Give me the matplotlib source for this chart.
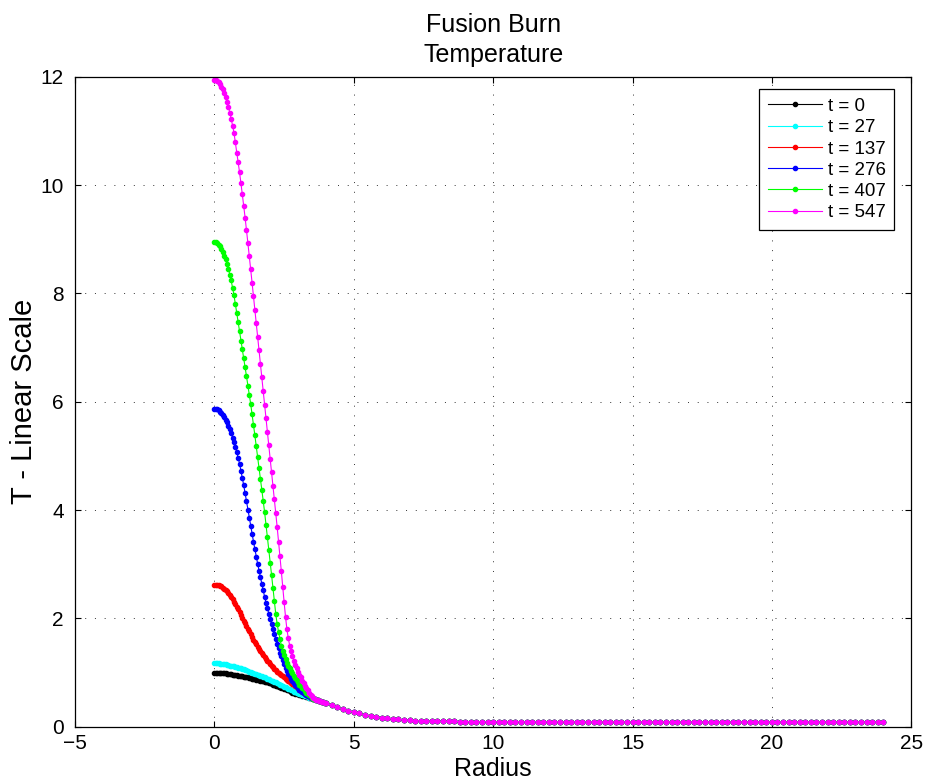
import numpy as np
import matplotlib
matplotlib.use("Agg")
import matplotlib.pyplot as plt


# radius samples near the core, every 0.05 (per-series values below)
radius_core = [0.00, 0.05, 0.10, 0.15, 0.20, 0.25, 0.30, 0.35, 0.40, 0.45,
               0.50, 0.55, 0.60, 0.65, 0.70, 0.75, 0.80, 0.85, 0.90, 0.95,
               1.00, 1.05, 1.10, 1.15, 1.20, 1.25, 1.30, 1.35, 1.40, 1.45,
               1.50, 1.55, 1.60, 1.65, 1.70, 1.75, 1.80, 1.85, 1.90, 1.95,
               2.00, 2.05, 2.10, 2.15, 2.20, 2.25, 2.30, 2.35, 2.40, 2.45,
               2.50, 2.55, 2.60, 2.65, 2.70, 2.75, 2.80, 2.85, 2.90, 2.95,
               3.00, 3.05, 3.10, 3.15, 3.20, 3.25, 3.30, 3.35, 3.40, 3.45,
               3.50, 3.55, 3.60, 3.65, 3.70, 3.75, 3.80, 3.85, 3.90, 3.95,
               4.00]

temp_t0 = [1.00, 1.00, 1.00, 1.00, 1.00, 0.99, 0.99, 0.99, 0.99, 0.98,
           0.98, 0.97, 0.97, 0.96, 0.96, 0.95, 0.95, 0.94, 0.94, 0.93,
           0.93, 0.92, 0.92, 0.91, 0.91, 0.90, 0.90, 0.89, 0.89, 0.88,
           0.87, 0.86, 0.86, 0.85, 0.85, 0.84, 0.83, 0.82, 0.82, 0.81,
           0.80, 0.79, 0.78, 0.77, 0.76, 0.75, 0.74, 0.73, 0.72, 0.71,
           0.70, 0.69, 0.68, 0.67, 0.66, 0.64, 0.63, 0.62, 0.61, 0.60,
           0.60, 0.59, 0.58, 0.57, 0.57, 0.56, 0.55, 0.55, 0.54, 0.53,
           0.53, 0.52, 0.51, 0.50, 0.49, 0.48, 0.47, 0.46, 0.45, 0.44,
           0.43]

temp_t27 = [1.17, 1.17, 1.17, 1.17, 1.16, 1.16, 1.16, 1.15, 1.15, 1.14,
            1.14, 1.13, 1.13, 1.12, 1.12, 1.11, 1.10, 1.09, 1.09, 1.08,
            1.07, 1.06, 1.05, 1.04, 1.03, 1.02, 1.01, 1.00, 0.99, 0.98,
            0.97, 0.96, 0.95, 0.94, 0.93, 0.92, 0.91, 0.90, 0.89, 0.88,
            0.87, 0.85, 0.84, 0.83, 0.82, 0.80, 0.79, 0.78, 0.77, 0.75,
            0.74, 0.73, 0.72, 0.70, 0.69, 0.68, 0.67, 0.65, 0.64, 0.63,
            0.62, 0.61, 0.60, 0.59, 0.58, 0.57, 0.56, 0.55, 0.54, 0.54,
            0.53, 0.52, 0.51, 0.50, 0.49, 0.48, 0.47, 0.46, 0.45, 0.44,
            0.43]

temp_t137 = [2.62, 2.62, 2.62, 2.61, 2.60, 2.59, 2.57, 2.55, 2.53, 2.50,
             2.47, 2.44, 2.40, 2.36, 2.31, 2.27, 2.22, 2.17, 2.12, 2.06,
             2.01, 1.96, 1.91, 1.86, 1.81, 1.76, 1.71, 1.66, 1.61, 1.56,
             1.52, 1.48, 1.44, 1.40, 1.36, 1.32, 1.29, 1.25, 1.22, 1.19,
             1.16, 1.13, 1.10, 1.07, 1.05, 1.02, 1.00, 0.97, 0.95, 0.93,
             0.91, 0.89, 0.87, 0.85, 0.83, 0.81, 0.79, 0.77, 0.75, 0.73,
             0.71, 0.68, 0.66, 0.64, 0.62, 0.60, 0.59, 0.57, 0.56, 0.54,
             0.53, 0.52, 0.51, 0.50, 0.49, 0.48, 0.47, 0.46, 0.45, 0.44,
             0.43]

temp_t276 = [5.87, 5.87, 5.86, 5.84, 5.82, 5.79, 5.76, 5.72, 5.67, 5.62,
             5.56, 5.49, 5.42, 5.34, 5.26, 5.17, 5.07, 4.97, 4.86, 4.73,
             4.60, 4.46, 4.31, 4.16, 4.00, 3.85, 3.70, 3.56, 3.42, 3.28,
             3.14, 3.01, 2.88, 2.76, 2.64, 2.52, 2.40, 2.29, 2.19, 2.09,
             1.99, 1.89, 1.80, 1.71, 1.62, 1.53, 1.45, 1.37, 1.30, 1.23,
             1.16, 1.09, 1.03, 0.98, 0.93, 0.88, 0.84, 0.80, 0.77, 0.74,
             0.71, 0.68, 0.66, 0.64, 0.62, 0.60, 0.58, 0.57, 0.56, 0.54,
             0.53, 0.52, 0.51, 0.50, 0.49, 0.48, 0.47, 0.46, 0.45, 0.44,
             0.43]

temp_t407 = [8.95, 8.95, 8.93, 8.90, 8.87, 8.82, 8.77, 8.70, 8.63, 8.55,
             8.46, 8.35, 8.24, 8.11, 7.97, 7.81, 7.64, 7.47, 7.30, 7.13,
             6.97, 6.80, 6.64, 6.47, 6.30, 6.13, 5.96, 5.77, 5.58, 5.38,
             5.18, 4.98, 4.78, 4.58, 4.38, 4.17, 3.96, 3.73, 3.50, 3.27,
             3.03, 2.80, 2.56, 2.32, 2.08, 1.90, 1.75, 1.62, 1.50, 1.40,
             1.32, 1.25, 1.18, 1.13, 1.08, 1.03, 0.99, 0.94, 0.90, 0.86,
             0.82, 0.78, 0.75, 0.72, 0.69, 0.66, 0.63, 0.60, 0.58, 0.56,
             0.54, 0.52, 0.51, 0.50, 0.49, 0.48, 0.47, 0.46, 0.45, 0.44,
             0.43]

temp_t547 = [11.95, 11.95, 11.93, 11.90, 11.87, 11.82, 11.77, 11.70, 11.63, 11.54,
             11.45, 11.34, 11.23, 11.10, 10.97, 10.79, 10.60, 10.42, 10.24, 10.04,
             9.83, 9.62, 9.40, 9.17, 8.93, 8.69, 8.45, 8.20, 7.95, 7.70,
             7.45, 7.20, 6.95, 6.70, 6.45, 6.20, 5.95, 5.70, 5.45, 5.20,
             4.95, 4.70, 4.45, 4.20, 3.95, 3.69, 3.42, 3.15, 2.87, 2.58,
             2.30, 2.03, 1.80, 1.63, 1.50, 1.39, 1.30, 1.22, 1.14, 1.08,
             1.02, 0.96, 0.91, 0.85, 0.80, 0.75, 0.71, 0.67, 0.63, 0.59,
             0.56, 0.53, 0.51, 0.50, 0.49, 0.48, 0.47, 0.46, 0.45, 0.44,
             0.43]

# outer region, every 0.2: the six profiles lie on top of each other
radius_tail = [4.2, 4.4, 4.6, 4.8, 5.0, 5.2, 5.4, 5.6, 5.8, 6.0,
               6.2, 6.4, 6.6, 6.8, 7.0, 7.2, 7.4, 7.6, 7.8, 8.0,
               8.2, 8.4, 8.6, 8.8, 9.0, 9.2, 9.4, 9.6, 9.8, 10.0,
               10.2, 10.4, 10.6, 10.8, 11.0, 11.2, 11.4, 11.6, 11.8, 12.0,
               12.2, 12.4, 12.6, 12.8, 13.0, 13.2, 13.4, 13.6, 13.8, 14.0,
               14.2, 14.4, 14.6, 14.8, 15.0, 15.2, 15.4, 15.6, 15.8, 16.0,
               16.2, 16.4, 16.6, 16.8, 17.0, 17.2, 17.4, 17.6, 17.8, 18.0,
               18.2, 18.4, 18.6, 18.8, 19.0, 19.2, 19.4, 19.6, 19.8, 20.0,
               20.2, 20.4, 20.6, 20.8, 21.0, 21.2, 21.4, 21.6, 21.8, 22.0,
               22.2, 22.4, 22.6, 22.8, 23.0, 23.2, 23.4, 23.6, 23.8, 24.0]
temp_tail = [0.400, 0.360, 0.330, 0.300, 0.270, 0.245, 0.220, 0.200, 0.185, 0.170,
             0.155, 0.145, 0.135, 0.127, 0.120, 0.115, 0.110, 0.107, 0.104, 0.100,
             0.099, 0.098, 0.098, 0.097, 0.097, 0.096, 0.096, 0.096, 0.095, 0.095,
             0.095, 0.095, 0.094, 0.094, 0.094, 0.094, 0.094, 0.093, 0.093, 0.093,
             0.093, 0.093, 0.093, 0.092, 0.092, 0.092, 0.092, 0.092, 0.092, 0.092,
             0.092, 0.091, 0.091, 0.091, 0.091, 0.091, 0.091, 0.091, 0.091, 0.091,
             0.091, 0.091, 0.091, 0.091, 0.091, 0.090, 0.090, 0.090, 0.090, 0.090,
             0.090, 0.090, 0.090, 0.090, 0.090, 0.090, 0.090, 0.090, 0.090, 0.090,
             0.090, 0.090, 0.090, 0.090, 0.090, 0.090, 0.090, 0.090, 0.090, 0.090,
             0.090, 0.090, 0.090, 0.090, 0.090, 0.090, 0.090, 0.090, 0.090, 0.090]

times = [0, 27, 137, 276, 407, 547]
profiles = [temp_t0, temp_t27, temp_t137, temp_t276, temp_t407, temp_t547]
colors = ['#000000', '#00ffff', '#ff0000', '#0000ff', '#00ff00', '#ff00ff']


def plot_profiles():
    plt.rcParams['font.family'] = ['Liberation Sans', 'DejaVu Sans']

    fig = plt.figure(figsize=(9.27, 7.84), dpi=100)
    ax = fig.add_axes([0.081, 0.073, 0.902, 0.829])

    radius = np.array(radius_core + radius_tail)
    for t, temp, c in zip(times, profiles, colors):
        ax.plot(radius, np.array(temp + temp_tail), '.-', color=c,
                lw=0.8, markersize=6, label="t = %d" % t)

    ax.set_xlim(-5, 25)
    ax.set_ylim(0, 12)
    ax.set_xticks(np.arange(-5, 26, 5))
    ax.set_yticks(np.arange(0, 13, 2))
    ax.tick_params(direction='in', top=True, right=True, length=4.5,
                   width=0.8, labelsize=15)
    ax.tick_params(axis='y', pad=8)
    ax.tick_params(axis='x', pad=5)
    ax.grid(True, color='#333333', linestyle=(0, (1, 9)), linewidth=0.7)
    for s in ax.spines.values():
        s.set_linewidth(0.9)

    ax.set_xlabel("Radius", fontsize=18, labelpad=3)
    ax.set_ylabel("T - Linear Scale", fontsize=21, labelpad=2)
    ax.set_title("Fusion Burn\nTemperature", fontsize=18, linespacing=1.3, pad=11)

    leg = ax.legend(loc='upper right', bbox_to_anchor=(0.9797, 0.9806),
                    borderaxespad=0, fontsize=13.5, fancybox=False,
                    edgecolor='black', framealpha=1, handlelength=2.9,
                    labelspacing=0.22, handletextpad=0.3, borderpad=0.45)
    leg.get_frame().set_linewidth(0.9)

    fig.savefig("out.png", dpi=100)


if __name__ == "__main__":
    plot_profiles()
